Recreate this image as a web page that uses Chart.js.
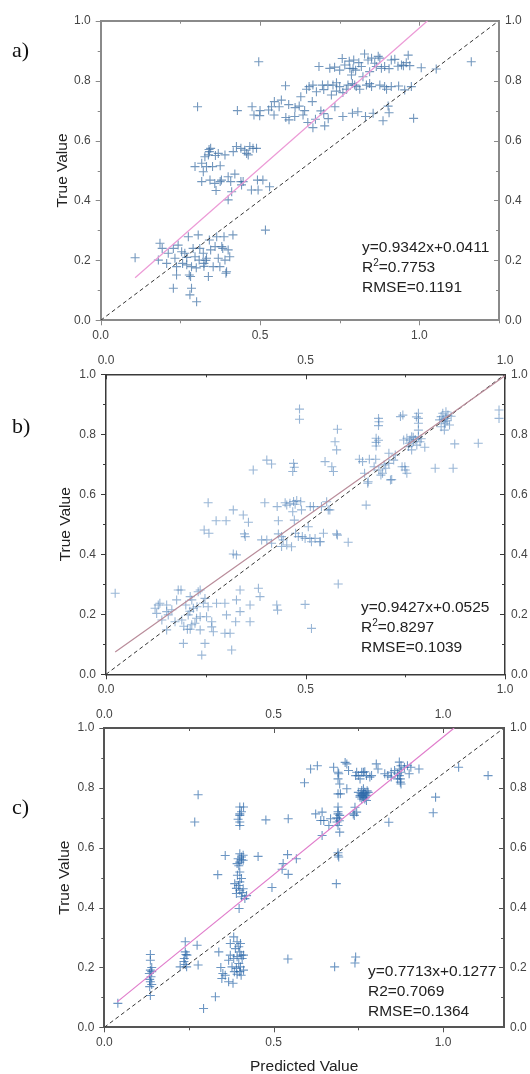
<!DOCTYPE html>
<html>
<head>
<meta charset="utf-8">
<script src="https://cdn.jsdelivr.net/npm/chart.js@4.4.0/dist/chart.umd.min.js"></script>
<style>
  body { margin: 0; width: 530px; height: 1074px; position: relative; overflow: hidden; background: #fff;
         font-family: "Liberation Sans", Arial, sans-serif; }
  canvas { position: absolute; left: 0; }
  .lbl { position: absolute; left: 12px; font-family: "Liberation Serif", "Times New Roman", serif;
         font-size: 22px; line-height: 22px; color: #111; }
  .stats { position: absolute; font-size: 15.5px; line-height: 20px; color: #222; white-space: nowrap; }
  .stats sup { font-size: 10px; line-height: 0; vertical-align: 6px; }
</style>
</head>
<body>
<canvas id="chartA" width="530" height="345" style="top:0px"></canvas>
<canvas id="chartB" width="530" height="355" style="top:345px"></canvas>
<canvas id="chartC" width="530" height="382" style="top:700px"></canvas>
<div class="lbl" style="top:39px">a)</div>
<div class="lbl" style="top:415px">b)</div>
<div class="lbl" style="top:796px">c)</div>
<div class="stats" id="statsA" style="left:362px;top:237px"></div>
<div class="stats" id="statsB" style="left:361px;top:597px"></div>
<div class="stats" id="statsC" style="left:368px;top:961px"></div>

<script>
const puntosA = [
  [0.496,0.863],[0.304,0.713],[0.108,0.209],[0.517,0.301],[1.163,0.863],[0.982,0.674],[1.053,0.839],[1.006,0.843],
  [0.758,0.874],[0.794,0.869],[0.828,0.889],[0.839,0.869],[0.871,0.881],[0.876,0.875],[0.912,0.869],[0.923,0.871],
  [0.965,0.885],[0.959,0.86],[0.78,0.865],[0.85,0.875],[0.81,0.86],
  [0.685,0.847],[0.719,0.841],[0.75,0.835],[0.766,0.852],[0.782,0.841],[0.818,0.847],[0.86,0.858],[0.865,0.847],
  [0.881,0.841],[0.891,0.847],[0.944,0.852],[0.844,0.83],[0.823,0.813],[0.787,0.819],[0.80,0.835],[0.95,0.85],
  [0.905,0.84],[0.734,0.845],[0.792,0.84],[0.933,0.848],[0.97,0.85],
  [0.58,0.783],[0.654,0.78],[0.646,0.771],[0.677,0.763],[0.696,0.785],[0.713,0.785],[0.729,0.785],[0.74,0.793],
  [0.75,0.78],[0.771,0.771],[0.776,0.785],[0.797,0.785],[0.802,0.78],[0.813,0.771],[0.834,0.785],[0.85,0.78],
  [0.876,0.785],[0.897,0.771],[0.912,0.78],[0.935,0.782],[0.954,0.769],[0.724,0.752],[0.628,0.746],[0.76,0.76],
  [0.79,0.79],[0.666,0.785],[0.844,0.79],[0.891,0.78],[0.975,0.78],[0.70,0.77],[0.74,0.765],
  [0.429,0.70],[0.475,0.713],[0.527,0.702],[0.536,0.713],[0.56,0.713],[0.567,0.735],[0.623,0.715],[0.664,0.73],
  [0.691,0.699],[0.735,0.713],[0.902,0.715],[0.905,0.693],[0.61,0.71],[0.64,0.70],[0.50,0.70],[0.59,0.72],[0.545,0.73],
  [0.481,0.685],[0.499,0.683],[0.544,0.685],[0.581,0.677],[0.591,0.669],[0.609,0.68],[0.635,0.685],[0.674,0.671],
  [0.714,0.673],[0.76,0.68],[0.79,0.691],[0.807,0.696],[0.831,0.68],[0.855,0.691],[0.886,0.666],[0.70,0.69],
  [0.65,0.66],[0.666,0.643],[0.703,0.649],
  [0.296,0.513],[0.317,0.524],[0.322,0.496],[0.332,0.513],[0.341,0.563],[0.345,0.574],[0.338,0.552],[0.351,0.513],
  [0.317,0.463],[0.343,0.468],[0.358,0.457],[0.362,0.433],[0.369,0.557],[0.375,0.516],[0.375,0.463],[0.379,0.468],
  [0.39,0.552],[0.4,0.479],[0.4,0.402],[0.411,0.429],[0.416,0.563],[0.426,0.58],[0.421,0.488],[0.44,0.574],
  [0.44,0.463],[0.442,0.452],[0.447,0.463],[0.452,0.568],[0.458,0.557],[0.463,0.552],[0.468,0.58],[0.473,0.435],
  [0.478,0.574],[0.489,0.574],[0.492,0.468],[0.494,0.435],[0.509,0.468],[0.53,0.446],[0.408,0.463],[0.327,0.546],
  [0.34,0.57],[0.36,0.55],
  [0.186,0.257],[0.193,0.24],[0.181,0.201],[0.207,0.19],[0.212,0.224],[0.228,0.24],[0.233,0.207],[0.238,0.179],
  [0.243,0.251],[0.238,0.151],[0.228,0.107],[0.254,0.229],[0.257,0.19],[0.264,0.224],[0.27,0.185],[0.275,0.279],
  [0.278,0.151],[0.282,0.146],[0.285,0.179],[0.285,0.107],[0.28,0.085],[0.301,0.062],[0.29,0.24],[0.296,0.212],
  [0.306,0.285],[0.309,0.201],[0.311,0.24],[0.322,0.224],[0.324,0.19],[0.332,0.207],[0.338,0.146],[0.341,0.268],
  [0.345,0.235],[0.353,0.179],[0.359,0.246],[0.364,0.279],[0.369,0.207],[0.374,0.179],[0.38,0.246],[0.383,0.24],
  [0.387,0.279],[0.39,0.201],[0.395,0.162],[0.4,0.235],[0.405,0.212],[0.415,0.285],[0.393,0.157],[0.33,0.2],
  [0.27,0.21],[0.324,0.18],[0.30,0.175]
];
const ajusteA = [[0.108,0.142],[1.026,1.0]];
const diagA = [[0,0],[1.25,1.0]];

const puntosB = [
  [0.023,0.27],[0.485,0.884],[0.485,0.85],[0.582,0.301],[0.499,0.233],[0.515,0.153],[0.985,0.881],[0.985,0.853],
  [0.933,0.77],[0.87,0.687],[0.825,0.687],[0.874,0.768],[0.607,0.44],[0.744,0.864],
  [0.683,0.853],[0.684,0.842],[0.683,0.829],[0.677,0.787],[0.677,0.773],[0.677,0.761],[0.683,0.78],
  [0.783,0.87],[0.783,0.853],[0.783,0.837],[0.783,0.814],[0.778,0.858],
  [0.746,0.781],[0.754,0.787],[0.762,0.781],[0.766,0.792],[0.77,0.775],[0.775,0.783],[0.779,0.764],[0.758,0.759],
  [0.783,0.792],[0.787,0.775],[0.799,0.757],[0.766,0.748],[0.738,0.859],[0.836,0.848],[0.84,0.859],[0.844,0.87],
  [0.848,0.842],[0.852,0.853],[0.857,0.864],[0.84,0.825],[0.848,0.814],[0.861,0.831],[0.852,0.875],[0.77,0.79],
  [0.76,0.77],[0.79,0.785],[0.845,0.85],[0.855,0.845],[0.85,0.835],[0.865,0.86],
  [0.635,0.717],[0.643,0.709],[0.66,0.717],[0.676,0.717],[0.672,0.692],[0.684,0.681],[0.693,0.67],[0.689,0.664],
  [0.701,0.687],[0.697,0.698],[0.709,0.703],[0.721,0.714],[0.713,0.648],[0.742,0.692],[0.75,0.681],[0.725,0.731],
  [0.709,0.737],[0.652,0.564],[0.648,0.67],[0.656,0.637],[0.716,0.649],[0.754,0.67],[0.749,0.692],[0.657,0.642],
  [0.549,0.709],[0.566,0.692],[0.57,0.676],[0.574,0.775],[0.578,0.748],[0.58,0.817],
  [0.47,0.703],[0.468,0.676],[0.472,0.69],[0.403,0.714],[0.415,0.701],[0.369,0.681],
  [0.256,0.572],[0.246,0.481],[0.258,0.47],[0.276,0.512],[0.301,0.512],[0.319,0.548],[0.344,0.531],[0.357,0.507],
  [0.347,0.468],[0.349,0.459],[0.319,0.401],[0.398,0.572],[0.39,0.448],[0.403,0.448],[0.415,0.437],[0.429,0.559],
  [0.432,0.512],[0.432,0.468],[0.44,0.459],[0.444,0.448],[0.44,0.426],[0.453,0.431],[0.449,0.572],[0.453,0.564],
  [0.461,0.57],[0.47,0.576],[0.474,0.567],[0.478,0.579],[0.468,0.542],[0.472,0.514],[0.482,0.459],[0.49,0.548],
  [0.499,0.453],[0.507,0.492],[0.511,0.453],[0.515,0.442],[0.52,0.559],[0.524,0.453],[0.536,0.442],[0.54,0.559],
  [0.545,0.47],[0.561,0.548],[0.58,0.464],[0.465,0.425],[0.488,0.575],[0.512,0.559],[0.553,0.575],[0.557,0.548],
  [0.475,0.47],[0.492,0.459],[0.537,0.442],[0.578,0.468],
  [0.123,0.22],[0.127,0.203],[0.131,0.231],[0.135,0.237],[0.152,0.209],[0.156,0.198],[0.152,0.231],[0.14,0.181],
  [0.177,0.248],[0.181,0.281],[0.188,0.281],[0.173,0.175],[0.152,0.148],[0.19,0.181],[0.194,0.103],[0.2,0.231],
  [0.206,0.198],[0.211,0.259],[0.215,0.248],[0.219,0.22],[0.204,0.15],[0.211,0.15],[0.223,0.17],[0.227,0.187],
  [0.231,0.275],[0.236,0.281],[0.236,0.192],[0.236,0.148],[0.24,0.064],[0.244,0.237],[0.248,0.253],[0.252,0.192],
  [0.248,0.103],[0.256,0.225],[0.265,0.175],[0.269,0.142],[0.265,0.158],[0.277,0.237],[0.298,0.137],[0.311,0.137],
  [0.315,0.081],[0.298,0.237],[0.302,0.198],[0.327,0.248],[0.325,0.175],[0.336,0.281],[0.336,0.209],[0.361,0.231],
  [0.361,0.175],[0.382,0.287],[0.386,0.259],[0.428,0.231],[0.43,0.214],[0.327,0.398],[0.165,0.215],[0.21,0.21],
  [0.228,0.225],[0.215,0.165],[0.195,0.16]
];
const ajusteB = [[0.023,0.074],[1.0,0.995]];
const diagB = [[0,0],[1.0,1.0]];

const puntosC = [
  [0.04,0.08],
  [0.136,0.243],[0.136,0.224],[0.136,0.191],[0.14,0.186],[0.133,0.18],[0.138,0.169],[0.136,0.152],[0.14,0.143],
  [0.134,0.136],[0.136,0.106],[0.14,0.2],[0.134,0.16],
  [0.239,0.286],[0.239,0.252],[0.241,0.243],[0.236,0.23],[0.239,0.21],[0.243,0.202],[0.224,0.202],[0.244,0.241],[0.235,0.22],
  [0.274,0.274],[0.277,0.208],[0.328,0.102],[0.293,0.063],[0.277,0.777],[0.267,0.686],[0.335,0.51],[0.454,0.571],
  [0.495,0.467],[0.525,0.528],[0.528,0.547],[0.541,0.577],[0.543,0.511],[0.567,0.563],[0.477,0.693],[0.543,0.697],
  [0.591,0.817],[0.542,0.228],[0.357,0.574],
  [0.4,0.736],[0.4,0.713],[0.4,0.708],[0.4,0.686],[0.4,0.674],[0.411,0.736],[0.405,0.72],[0.395,0.695],
  [0.4,0.58],[0.405,0.569],[0.395,0.563],[0.41,0.558],[0.4,0.552],[0.392,0.547],[0.4,0.519],[0.393,0.508],
  [0.405,0.497],[0.4,0.486],[0.396,0.474],[0.41,0.463],[0.4,0.458],[0.39,0.447],[0.405,0.436],[0.415,0.43],
  [0.398,0.397],[0.42,0.44],[0.385,0.48],[0.405,0.56],[0.41,0.575],[0.39,0.464],[0.407,0.45],[0.397,0.54],
  [0.382,0.302],[0.392,0.286],[0.402,0.28],[0.397,0.269],[0.387,0.263],[0.4,0.252],[0.404,0.241],[0.392,0.236],
  [0.382,0.23],[0.407,0.23],[0.397,0.213],[0.402,0.202],[0.39,0.197],[0.4,0.186],[0.392,0.177],[0.404,0.174],
  [0.411,0.191],[0.411,0.241],[0.367,0.224],[0.372,0.241],[0.377,0.202],[0.384,0.186],[0.372,0.28],[0.357,0.174],
  [0.347,0.163],[0.367,0.152],[0.38,0.147],[0.344,0.2],[0.338,0.252],[0.35,0.18],
  [0.609,0.863],[0.629,0.874],[0.677,0.869],
  [0.69,0.852],[0.692,0.847],[0.69,0.83],[0.695,0.813],[0.69,0.78],[0.697,0.78],[0.69,0.736],[0.69,0.713],
  [0.695,0.708],[0.69,0.697],[0.687,0.686],[0.69,0.674],[0.695,0.652],[0.69,0.583],[0.692,0.569],[0.685,0.48],
  [0.69,0.72],[0.686,0.7],[0.694,0.69],[0.69,0.575],
  [0.711,0.885],[0.721,0.858],[0.716,0.797],
  [0.745,0.852],[0.75,0.841],[0.755,0.83],[0.76,0.852],[0.769,0.854],[0.774,0.841],[0.789,0.841],
  [0.75,0.785],[0.755,0.774],[0.76,0.791],[0.765,0.78],[0.769,0.785],[0.774,0.774],[0.76,0.763],[0.769,0.763],
  [0.755,0.769],[0.765,0.797],[0.779,0.785],[0.774,0.758],[0.765,0.77],[0.772,0.78],[0.758,0.78],[0.776,0.79],
  [0.762,0.775],[0.77,0.768],
  [0.74,0.735],[0.745,0.719],[0.738,0.708],[0.735,0.713],[0.624,0.713],[0.643,0.719],[0.648,0.691],[0.639,0.691],
  [0.663,0.674],[0.643,0.641],[0.668,0.697],
  [0.716,0.88],[0.803,0.88],[0.808,0.863],[0.828,0.847],[0.837,0.841],[0.847,0.852],[0.857,0.858],[0.866,0.847],
  [0.871,0.886],[0.876,0.874],[0.871,0.863],[0.876,0.852],[0.871,0.841],[0.874,0.83],[0.876,0.813],[0.874,0.819],
  [0.886,0.869],[0.895,0.874],[0.905,0.869],[0.929,0.863],[0.9,0.847],[0.866,0.83],[0.847,0.836],[0.784,0.836],
  [0.765,0.852],[0.742,0.841],
  [1.046,0.869],[1.133,0.841],[0.978,0.769],[0.971,0.717],[0.84,0.685],[0.742,0.235],[0.74,0.215],[0.68,0.202]
];
const ajusteC = [[0.038,0.085],[1.033,1.0]];
const diagC = [[0,0],[1.18,1.0]];

const ecuaciones = ['y=0.9342x+0.0411', 'y=0.9427x+0.0525', 'y=0.7713x+0.1277'];
const valoresR2 = ['0.7753', '0.8297', '0.7069'];
const valoresRMSE = ['0.1191', '0.1039', '0.1364'];

// etiquetas de ejes
const etiquetaX = v => { const h = v * 2; return Math.abs(h - Math.round(h)) < 1e-6 ? v.toFixed(1) : ''; };
const etiquetaY = v => { const t = Math.round(v * 10); return (Math.abs(v * 10 - t) < 1e-6 && t % 2 === 0) ? v.toFixed(1) : ''; };

// marcas de ejes: abajo/izquierda hacia afuera, arriba/derecha hacia adentro
const marcas = {
  id: 'marcas',
  afterDraw(chart) {
    const ctx = chart.ctx, a = chart.chartArea;
    const color = chart.options.plugins.marcas.color;
    ctx.save();
    ctx.strokeStyle = color;
    ctx.lineWidth = 1;
    ctx.beginPath();
    ['x', 'x2'].forEach(id => {
      const s = chart.scales[id];
      s.ticks.forEach(t => {
        const q = Math.round(t.value * 4);
        if (Math.abs(t.value * 4 - q) > 1e-6) return;
        const len = q % 2 === 0 ? 5 : 3;
        const px = Math.round(s.getPixelForValue(t.value)) + 0.5;
        if (id === 'x') { ctx.moveTo(px, a.bottom); ctx.lineTo(px, a.bottom + len); }
        else { ctx.moveTo(px, a.top); ctx.lineTo(px, a.top + len); }
      });
    });
    ['y', 'y2'].forEach(id => {
      const s = chart.scales[id];
      s.ticks.forEach(t => {
        const q = Math.round(t.value * 10);
        const len = q % 2 === 0 ? 5 : 3;
        const py = Math.round(s.getPixelForValue(t.value)) + 0.5;
        if (id === 'y') { ctx.moveTo(a.left - len, py); ctx.lineTo(a.left, py); }
        else { ctx.moveTo(a.right - len, py); ctx.lineTo(a.right, py); }
      });
    });
    ctx.stroke();
    ctx.restore();
  }
};
Chart.register(marcas);

const fuente = { family: '"Liberation Sans", Arial, sans-serif', size: 12 };
const fuenteTitulo = { family: '"Liberation Sans", Arial, sans-serif', size: 15.5 };
const aXY = arr => arr.map(p => ({ x: p[0], y: p[1] }));

function crearPanel(id, c) {
  const borde = { color: c.marco, width: c.marcoAncho };
  const sinGrid = { display: false, drawTicks: false };
  new Chart(document.getElementById(id), {
    type: 'scatter',
    data: {
      datasets: [
        { data: aXY(c.ajuste), showLine: true, borderColor: c.colorAjuste, borderWidth: 1.2, pointRadius: 0 },
        { data: aXY(c.diag), showLine: true, borderColor: '#333', borderWidth: 1, borderDash: [4, 3], pointRadius: 0 },
        { data: aXY(c.puntos), pointStyle: 'cross', pointRadius: 4.5, borderColor: c.colorPuntos, borderWidth: 1.1 }
      ]
    },
    options: {
      responsive: false, animation: false, devicePixelRatio: 1, events: [],
      layout: { padding: 0 },
      plugins: { legend: { display: false }, tooltip: { enabled: false }, marcas: { color: c.marco } },
      scales: {
        x: {
          type: 'linear', position: 'bottom', min: 0, max: c.xMax,
          afterFit: s => { s.height = c.abajo; },
          grid: sinGrid, border: borde,
          ticks: { stepSize: 0.25, callback: etiquetaX, padding: 8.5, font: fuente, color: '#444', maxRotation: 0, autoSkip: false },
          title: { display: !!c.tituloX, text: c.tituloX || '', font: fuenteTitulo, color: '#222', padding: { top: 0, bottom: 5.7 } }
        },
        x2: {
          type: 'linear', position: 'top', min: 0, max: c.xMax,
          afterFit: s => { s.height = c.arriba; },
          grid: sinGrid, border: borde,
          ticks: { display: c.etiquetasArriba, stepSize: 0.25, callback: etiquetaX, padding: 6.4, font: fuente, color: '#444', maxRotation: 0, autoSkip: false }
        },
        y: {
          type: 'linear', position: 'left', min: 0, max: 1,
          afterFit: s => { s.width = c.izq; },
          grid: sinGrid, border: borde,
          ticks: { stepSize: 0.1, callback: etiquetaY, padding: 10, font: fuente, color: '#444', autoSkip: false },
          title: { display: true, text: 'True Value', font: fuenteTitulo, color: '#222', padding: { top: c.tituloY, bottom: 0 } }
        },
        y2: {
          type: 'linear', position: 'right', min: 0, max: 1,
          afterFit: s => { s.width = c.der; },
          grid: sinGrid, border: borde,
          ticks: { stepSize: 0.1, callback: etiquetaY, padding: 6, font: fuente, color: '#444', autoSkip: false }
        }
      }
    }
  });
}

crearPanel('chartA', {
  puntos: puntosA, ajuste: ajusteA, diag: diagA, xMax: 1.25,
  izq: 100.7, der: 31, arriba: 20.7, abajo: 24.7, tituloY: 53.2, etiquetasArriba: false,
  marco: '#8a8a8a', marcoAncho: 2, colorAjuste: '#ec9ad6', colorPuntos: 'rgba(62,112,165,0.72)'
});
crearPanel('chartB', {
  puntos: puntosB, ajuste: ajusteB, diag: diagB, xMax: 1.0,
  izq: 106, der: 25, arriba: 29.3, abajo: 25.7, tituloY: 56.5, etiquetasArriba: true,
  marco: '#3a3a3a', marcoAncho: 1.5, colorAjuste: '#b98c9a', colorPuntos: 'rgba(80,130,185,0.58)'
});
crearPanel('chartC', {
  puntos: puntosC, ajuste: ajusteC, diag: diagC, xMax: 1.18,
  izq: 104.3, der: 26, arriba: 28, abajo: 54.7, tituloY: 55.7, etiquetasArriba: true, tituloX: 'Predicted Value',
  marco: '#555', marcoAncho: 2, colorAjuste: '#e07ccb', colorPuntos: 'rgba(45,105,170,0.7)'
});

// textos de estadisticas
['statsA', 'statsB', 'statsC'].forEach((id, i) => {
  const r2 = i < 2 ? 'R<sup>2</sup>' : 'R2';
  document.getElementById(id).innerHTML =
    ecuaciones[i] + '<br>' + r2 + '=' + valoresR2[i] + '<br>RMSE=' + valoresRMSE[i];
});
</script>
</body>
</html>
